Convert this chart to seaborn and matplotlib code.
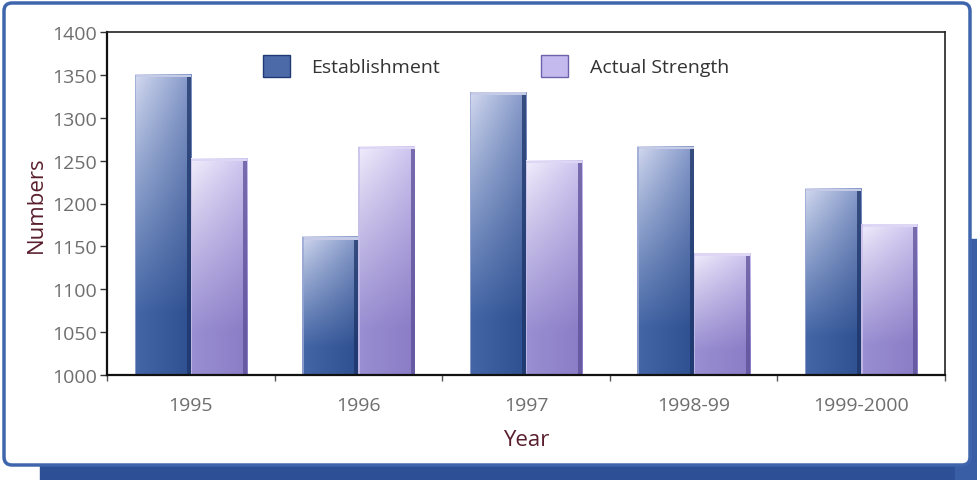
import numpy as np
import pandas as pd
import matplotlib
matplotlib.use("Agg")
import matplotlib.pyplot as plt
import seaborn as sns
from matplotlib.patches import FancyBboxPatch, Rectangle, Patch
from matplotlib.colors import to_rgb

years = ["1995", "1996", "1997", "1998-99", "1999-2000"]
establishment = [1350, 1161, 1330, 1266, 1217]
actual_strength = [1252, 1266, 1250, 1142, 1176]
series_names = ["Establishment", "Actual Strength"]

df = pd.DataFrame({
    "Year": years * 2,
    "Numbers": establishment + actual_strength,
    "Series": [series_names[0]] * len(years) + [series_names[1]] * len(years),
})

sns.set_theme(style="white")
plt.rcParams["font.family"] = ["Open Sans", "DejaVu Sans"]

W, H = 978, 481
fig = plt.figure(figsize=(W / 100, H / 100), dpi=100)
fig.patch.set_facecolor("white")

# background frame decorations
bgax = fig.add_axes([0, 0, 1, 1], zorder=-5)
bgax.set_xlim(0, W); bgax.set_ylim(H, 0); bgax.axis("off")
bgax.add_patch(Rectangle((40, 455), W - 40, 30, color="#2d4f96"))
bgax.add_patch(Rectangle((955, 240), 30, 240, color="#3a5ea6"))
bgax.add_patch(FancyBboxPatch((4, 4), 966, 462, boxstyle="round,pad=0,rounding_size=8",
                              facecolor="white", edgecolor="#3f66ad", linewidth=2.5))

ax = fig.add_axes([107 / W, 1 - 376 / H, (945 - 107) / W, (376 - 33) / H])
est_col = "#3d5a98"
act_col = "#9a8ed0"
sns.barplot(data=df, x="Year", y="Numbers", hue="Series", order=years,
            hue_order=series_names, palette=[est_col, act_col], width=0.67,
            ax=ax, legend=False, saturation=1)
YMIN, YMAX = 1000, 1400
ax.set_ylim(YMIN, YMAX)
ax.set_xlim(-0.5, len(years) - 0.5)


def grad_image(top_l, top_r, bot_l, bot_r, n=80):
    gx = np.linspace(0, 1, n)
    gy = np.linspace(0, 1, n)  # 0 = top
    GX, GY = np.meshgrid(gx, gy)
    t = np.clip(GY / 0.8, 0, 1) ** 0.9
    tl, tr, bl, br = (np.array(to_rgb(c)) for c in (top_l, top_r, bot_l, bot_r))
    top = tl[None, None, :] * (1 - GX[..., None]) + tr[None, None, :] * GX[..., None]
    bot = bl[None, None, :] * (1 - GX[..., None]) + br[None, None, :] * GX[..., None]
    img = top * (1 - t[..., None]) + bot * t[..., None]
    return np.clip(img, 0, 1)


est_img = grad_image("#d4daf0", "#8397c8", "#4466a6", "#2f5090")
act_img = grad_image("#f2eefc", "#cdc4ef", "#9a8fd2", "#8a7cc6")

for i, p in enumerate(ax.patches):
    x0, y0 = p.get_x(), p.get_y()
    w, h = p.get_width(), p.get_height()
    if h <= 0:
        continue
    is_est = i < len(years)
    yb = max(y0, YMIN)
    yt = y0 + h
    im = ax.imshow(est_img if is_est else act_img, extent=(x0, x0 + w, yb, yt),
                   origin="upper", aspect="auto", interpolation="bilinear",
                   zorder=p.get_zorder() + 0.1)
    im.set_clip_path(p)
    im.set_clip_box(ax.bbox)
    edge = "#1c3468" if is_est else "#5b4f98"
    ax.add_patch(Rectangle((x0 + w * 0.93, yb), w * 0.07, yt - yb, color=edge, alpha=0.75,
                           zorder=p.get_zorder() + 0.2, linewidth=0))
    ax.add_patch(Rectangle((x0, yt - 3.0), w, 3.0, facecolor="#c5cbe6" if is_est else "#ddd6f4",
                           edgecolor="none", zorder=p.get_zorder() + 0.2))
    ax.add_patch(Rectangle((x0, yb), w * 0.025, yt - yb, facecolor="#9aa8d4" if is_est else "#c8bfea",
                           edgecolor="none", zorder=p.get_zorder() + 0.2, alpha=0.8))

ax.set_ylim(YMIN, YMAX)
ax.set_xlim(-0.5, len(years) - 0.5)
ax.set_yticks(np.arange(1000, 1401, 50))
ax.tick_params(axis="y", direction="out", length=5, width=1, color="#333333",
               labelsize=14, labelcolor="#6e6e6e", left=True, pad=2)
ax.tick_params(axis="x", length=0, labelsize=14, labelcolor="#6e6e6e", pad=15)
ax.set_xticks(np.arange(-0.5, len(years), 1), minor=True)
ax.tick_params(axis="x", which="minor", direction="out", length=4, color="#555555", bottom=True)

for s in ["left", "bottom"]:
    ax.spines[s].set_color("#111111"); ax.spines[s].set_linewidth(1.6)
for s in ["top", "right"]:
    ax.spines[s].set_color("#222222"); ax.spines[s].set_linewidth(1.2)

ax.set_ylabel("Numbers", color="#5a1f2e", fontsize=16, labelpad=4)
ax.set_xlabel("Year", color="#5a1f2e", fontsize=16, labelpad=11)

handles = [Patch(facecolor="#4d6aa8", edgecolor="#1f3a75"), Patch(facecolor="#c4baee", edgecolor="#6f62ad")]
ax.legend(handles, series_names, loc="upper center", bbox_to_anchor=(0.464, 0.985), ncol=2,
          frameon=False, fontsize=14, handlelength=1.4, handleheight=1.4,
          columnspacing=5.2, handletextpad=1.1, labelcolor="#333333")

fig.savefig("out.png", dpi=100)
